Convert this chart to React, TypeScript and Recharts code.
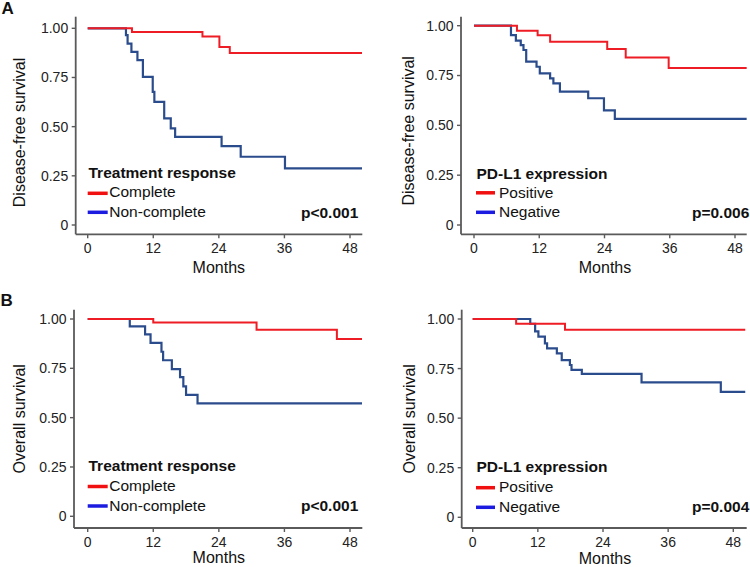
import { LineChart, Line, XAxis, YAxis, Legend } from 'recharts';

const FONT = '"Liberation Sans", Arial, Helvetica, sans-serif';

// axis ticks
const monthTicks = [0, 12, 24, 36, 48];
const survivalTicks = [0, 0.25, 0.5, 0.75, 1];

// A left: disease-free survival by treatment response
const dfsCompleteMonths = [0, 8.1, 21.0, 24.1, 26.0, 50.2];
const dfsCompleteSurv = [1, 0.981, 0.958, 0.905, 0.875, 0.875];
const dfsNonCompleteMonths = [0, 7.0, 7.3, 8.0, 9.1, 10.1, 11.9, 12.2, 14.0, 15.2, 16.0, 24.5, 28.0, 36.1, 50.2];
const dfsNonCompleteSurv = [1, 0.965, 0.922, 0.88, 0.838, 0.753, 0.677, 0.626, 0.542, 0.491, 0.448, 0.401, 0.347, 0.288, 0.288];

// A right: disease-free survival by PD-L1 expression
const dfsPositiveMonths = [0, 7.9, 11.7, 14.0, 24.5, 27.9, 35.8, 50.2];
const dfsPositiveSurv = [1, 0.975, 0.952, 0.92, 0.883, 0.84, 0.788, 0.788];
const dfsNegativeMonths = [0, 6.8, 7.7, 8.6, 9.1, 9.6, 11.5, 12.1, 14.0, 14.6, 15.8, 21.0, 23.9, 25.9, 50.2];
const dfsNegativeSurv = [1, 0.953, 0.925, 0.903, 0.878, 0.82, 0.794, 0.761, 0.736, 0.711, 0.669, 0.636, 0.575, 0.532, 0.532];

// B left: overall survival by treatment response
const osCompleteMonths = [0, 12.0, 30.9, 45.6, 50.2];
const osCompleteSurv = [1, 0.982, 0.946, 0.899, 0.899];
const osNonCompleteMonths = [0, 7.7, 10.5, 11.5, 13.5, 13.8, 15.4, 16.9, 17.5, 18.0, 20.1, 50.2];
const osNonCompleteSurv = [1, 0.963, 0.922, 0.879, 0.834, 0.791, 0.746, 0.705, 0.659, 0.615, 0.572, 0.572];

// B right: overall survival by PD-L1 expression
const osPositiveMonths = [0, 8.0, 17.0, 50.2];
const osPositiveSurv = [1, 0.976, 0.946, 0.946];
const osNegativeMonths = [0, 10.6, 11.5, 12.1, 13.3, 13.7, 15.5, 16.4, 17.9, 18.2, 20.1, 31.1, 45.7, 50.2];
const osNegativeSurv = [1, 0.976, 0.938, 0.911, 0.877, 0.852, 0.827, 0.793, 0.768, 0.743, 0.723, 0.68, 0.632, 0.632];

const responseGroups = ['Complete', 'Non-complete'];
const pdl1Groups = ['Positive', 'Negative'];

const RED = '#ee1c24';
const NAVY = '#2b4c8c';
const LEG_RED = '#f01010';
const LEG_BLUE = '#1c1ce0';
const AXIS = '#5a5a5a';

const toSteps = (months: number[], surv: number[]) => months.map((t, i) => ({ t, s: surv[i] }));

type Geo = {
  box: [number, number, number, number];
  x0: number; x48: number; plotL: number; plotR: number;
  y1: number; y0: number; plotT: number; plotB: number;
  yTitleX: number; yTitleY: number; monthsX: number; monthsY: number;
  legX: number; legTitleY: number; rowY: [number, number]; segX: [number, number];
  segY: [number, number]; textX: number; pX: number; pY: number;
  letter?: string; letterX?: number; letterY?: number;
};

type Props = {
  g: Geo; yTitle: string; legendTitle: string; groups: string[]; pText: string;
  upper: { t: number; s: number }[]; lower: { t: number; s: number }[];
};

function Panel({ g, yTitle, legendTitle, groups, pText, upper, lower }: Props) {
  const [bl, bt, bw, bh] = g.box;
  const sx = (g.x48 - g.x0) / 48;
  const sy = g.y0 - g.y1;
  const xDomain = [(g.plotL - g.x0) / sx, (g.plotR - g.x0) / sx];
  const yDomain = [-(g.plotB - g.y0) / sy, 1 + (g.y1 - g.plotT) / sy];
  const L = (x: number) => x - bl;
  const T = (y: number) => y - bt;
  const tick = { fill: '#222', fontSize: 14, fontFamily: FONT };

  const legend = () => (
    <svg width={bw} height={bh} style={{ position: 'absolute', left: 0, top: 0, fontFamily: FONT }}>
      {g.letter && (
        <text x={L(g.letterX!)} y={T(g.letterY!)} fontSize={17} fontWeight="bold" fill="#111">{g.letter}</text>
      )}
      <text x={L(g.legX)} y={T(g.legTitleY)} fontSize={15.5} fontWeight="bold" fill="#111">{legendTitle}</text>
      {groups.map((name, i) => (
        <g key={name}>
          <line x1={L(g.segX[0])} x2={L(g.segX[1])} y1={T(g.segY[i])} y2={T(g.segY[i])}
            stroke={i === 0 ? LEG_RED : LEG_BLUE} strokeWidth={3.5} />
          <text x={L(g.textX)} y={T(g.rowY[i])} fontSize={15.5} fill="#111">{name}</text>
        </g>
      ))}
      <text x={L(g.pX)} y={T(g.pY)} fontSize={15.5} fontWeight="bold" textAnchor="end" fill="#111">{pText}</text>
    </svg>
  );

  return (
    <div style={{ position: 'absolute', left: bl, top: bt }}>
      <LineChart width={bw} height={bh} style={{ fontFamily: FONT }}
        margin={{ top: g.plotT - bt, right: bl + bw - g.plotR, left: 0, bottom: 0 }}>
        <XAxis dataKey="t" type="number" domain={xDomain} allowDataOverflow ticks={monthTicks}
          height={bt + bh - g.plotB} tickSize={4} tickMargin={5} tick={tick}
          axisLine={{ stroke: AXIS, strokeWidth: 1.8 }} tickLine={{ stroke: AXIS, strokeWidth: 1.4 }}
          label={{ content: () => (
            <text x={L(g.monthsX)} y={T(g.monthsY)} textAnchor="middle" fontSize={16} fill="#111" fontFamily={FONT}>Months</text>
          ) }} />
        <YAxis dataKey="s" type="number" domain={yDomain} allowDataOverflow ticks={survivalTicks}
          width={g.plotL - bl} tickSize={4} tickMargin={3.5} tick={tick}
          tickFormatter={(v: number) => (v === 0 ? '0' : v.toFixed(2))}
          axisLine={{ stroke: AXIS, strokeWidth: 1.8 }} tickLine={{ stroke: AXIS, strokeWidth: 1.4 }}
          label={{ content: () => (
            <text x={L(g.yTitleX)} y={T(g.yTitleY)} textAnchor="middle" fontSize={16} fill="#111" fontFamily={FONT}
              transform={`rotate(-90, ${L(g.yTitleX)}, ${T(g.yTitleY)})`}>{yTitle}</text>
          ) }} />
        <Line data={lower} dataKey="s" name={groups[1]} type="stepAfter" stroke={NAVY} strokeWidth={2.2}
          dot={false} activeDot={false} isAnimationActive={false} />
        <Line data={upper} dataKey="s" name={groups[0]} type="stepAfter" stroke={RED} strokeWidth={2}
          dot={false} activeDot={false} isAnimationActive={false} />
        <Legend content={legend} layout="vertical" verticalAlign="middle" align="center"
          wrapperStyle={{ left: 0, top: 0, width: bw, height: bh, pointerEvents: 'none' }} />
      </LineChart>
    </div>
  );
}

const geoAL: Geo = {
  box: [0, 0, 375, 283], x0: 87.7, x48: 350, plotL: 75.7, plotR: 362.3,
  y1: 28.3, y0: 225, plotT: 16.7, plotB: 234.3,
  yTitleX: 25, yTitleY: 132.5, monthsX: 218.8, monthsY: 273.2,
  legX: 88.5, legTitleY: 178.3, rowY: [197.3, 217.3], segX: [87.7, 107.7], segY: [193.3, 212.3],
  textX: 109.3, pX: 358.3, pY: 217.5, letter: 'A', letterX: 1.5, letterY: 13.6,
};
const geoAR: Geo = {
  box: [375, 0, 375, 283], x0: 474, x48: 735, plotL: 461, plotR: 746.7,
  y1: 25.7, y0: 225, plotT: 16.7, plotB: 234.3,
  yTitleX: 414.3, yTitleY: 130.8, monthsX: 605, monthsY: 273.2,
  legX: 476.5, legTitleY: 178.5, rowY: [197.5, 217.2], segX: [476, 495], segY: [192.8, 212.3],
  textX: 499, pX: 749.3, pY: 217.5,
};
const geoBL: Geo = {
  box: [0, 283, 375, 284], x0: 87.7, x48: 350, plotL: 74, plotR: 362.3,
  y1: 319, y0: 516.3, plotT: 309.7, plotB: 528,
  yTitleX: 25, yTitleY: 418.8, monthsX: 218.8, monthsY: 562.8,
  legX: 88.5, legTitleY: 470.9, rowY: [490.9, 510.9], segX: [87.7, 107.7], segY: [486.5, 506],
  textX: 109.3, pX: 358.3, pY: 511, letter: 'B', letterX: 0.5, letterY: 306.3,
};
const geoBR: Geo = {
  box: [375, 283, 375, 284], x0: 472.7, x48: 733.3, plotL: 461.7, plotR: 746.7,
  y1: 319, y0: 517.3, plotT: 309.7, plotB: 528,
  yTitleX: 415, yTitleY: 418.8, monthsX: 605, monthsY: 563.8,
  legX: 476.5, legTitleY: 471.5, rowY: [492.2, 512.2], segX: [476, 495], segY: [487.7, 507.3],
  textX: 499, pX: 749.3, pY: 512.2,
};

export default function App() {
  return (
    <div style={{ position: 'absolute', left: 0, top: 0, width: 750, height: 567, background: '#fff', overflow: 'hidden' }}>
      <Panel g={geoAL} yTitle="Disease-free survival" legendTitle="Treatment response" groups={responseGroups}
        pText="p<0.001" upper={toSteps(dfsCompleteMonths, dfsCompleteSurv)} lower={toSteps(dfsNonCompleteMonths, dfsNonCompleteSurv)} />
      <Panel g={geoAR} yTitle="Disease-free survival" legendTitle="PD-L1 expression" groups={pdl1Groups}
        pText="p=0.006" upper={toSteps(dfsPositiveMonths, dfsPositiveSurv)} lower={toSteps(dfsNegativeMonths, dfsNegativeSurv)} />
      <Panel g={geoBL} yTitle="Overall survival" legendTitle="Treatment response" groups={responseGroups}
        pText="p<0.001" upper={toSteps(osCompleteMonths, osCompleteSurv)} lower={toSteps(osNonCompleteMonths, osNonCompleteSurv)} />
      <Panel g={geoBR} yTitle="Overall survival" legendTitle="PD-L1 expression" groups={pdl1Groups}
        pText="p=0.004" upper={toSteps(osPositiveMonths, osPositiveSurv)} lower={toSteps(osNegativeMonths, osNegativeSurv)} />
    </div>
  );
}
